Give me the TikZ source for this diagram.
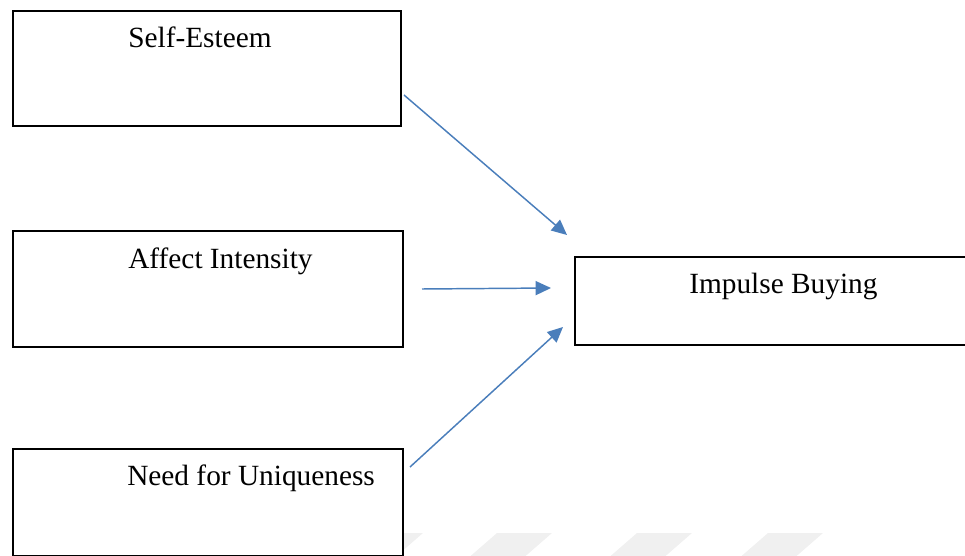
\documentclass[tikz,border=0pt]{standalone}
\usepackage{fontspec}
\setmainfont{Liberation Serif}
\usetikzlibrary{arrows.meta}
\definecolor{arrowblue}{HTML}{4A7EBB}
\definecolor{wmgray}{HTML}{F0F0F0}
\begin{document}
\begin{tikzpicture}[x=0.75pt,y=-0.75pt,
  box/.style={draw=black,line width=1.35pt,fill=white,anchor=north west,inner sep=0pt},
  lbl/.style={anchor=base west,inner sep=0pt,font=\fontsize{22}{26}\selectfont},
  link/.style={draw=arrowblue,line width=1.1pt,-{Triangle[length=11.5pt,width=10.5pt]}},
  wmband/.style={fill=wmgray,draw=none}]
\useasboundingbox (0,0) rectangle (965,556);

% faint slanted bands along the bottom edge
\begin{scope}
  \clip (0,0) rectangle (965,556);
  \foreach \xr in {423,552,692,823}
    \fill[wmband] (\xr-55,533) -- (\xr,533) -- (\xr-31,560) -- (\xr-86,560) -- cycle;
\end{scope}

% boxes
\node[box,minimum width=291pt,minimum height=86.25pt] (se) at (12,10) {};
\node[box,minimum width=292.5pt,minimum height=87pt] (ai) at (12,230) {};
\node[box,minimum width=292.5pt,minimum height=80.25pt] (nu) at (12,448) {};
\node[box,minimum width=294pt,minimum height=66pt] (ib) at (574,256) {};

% labels
\node[lbl] (tse) at (128,48) {Self-Esteem};
\node[lbl] (tai) at (128,269) {Affect Intensity};
\node[lbl] (tnu) at (127,485) {Need for Uniqueness};
\node[lbl] (tib) at (689,294) {Impulse Buying};

% arrow ends
\coordinate (s1) at (404,95);
\coordinate (e1) at (567,235);
\coordinate (s2) at (422,289);
\coordinate (e2) at (551,288);
\coordinate (s3) at (410,467);
\coordinate (e3) at (563,327);

\draw[link] (s1) -- (e1);
\draw[link] (s2) -- (e2);
\draw[link] (s3) -- (e3);
\end{tikzpicture}
\end{document}
